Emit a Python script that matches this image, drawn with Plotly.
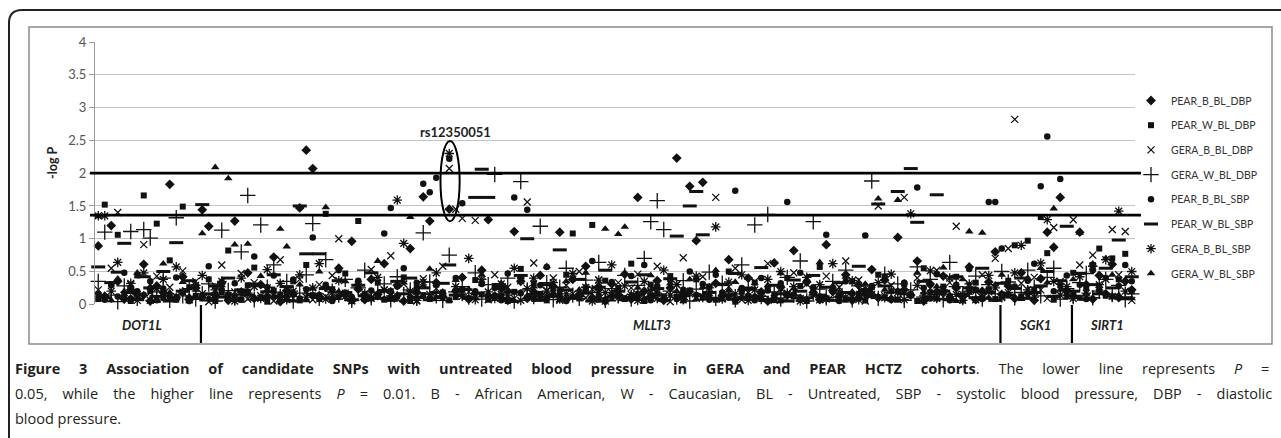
import plotly.graph_objects as go

# ---------------- data (-log P per SNP, SNPs in genomic order) ----------------
n_snps = 160
snp_index = list(range(n_snps))

PEAR_B_BL_DBP = [
    .89, .12, 1.20, .35, .08, .22, .15, .61, .05, .28, .18, 1.83, .10, .42, .07, .25, 1.44, 1.19, .14, .33,
    .06, 1.27, .19, .48, .09, .30, .12, .72, .04, .21, .16, 1.47, 2.35, 2.07, .11, .26, .08, .55, .14, .96,
    .23, .07, .38, .15, .62, .10, .29, .05, .85, .18, 1.64, 1.27, .33, .12, 1.45, .20, .41, .08, .17, .52,
    1.29, .13, .24, .06, 1.11, .35, .09, .19, .44, .11, .27, 1.10, .07, .38, .15, .58, .10, .23, .05, .31,
    .14, .46, .08, 1.63, .20, .12, .36, .06, .25, 2.23, .17, 1.80, .97, 1.86, .09, .32, .13, .68, .07, .22,
    .40, .11, .19, .05, .63, .26, .14, .82, .09, .34, .18, .07, .91, .21, .12, .45, .06, .29, .16, .53,
    .10, .37, .08, 1.02, .22, .14, .66, .05, .31, .19, .43, .09, .25, .12, .57, .07, .20, .34, .80, .15,
    .28, .09, .48, .17, .06, .39, 1.10, .87, 1.63, .21, .12, 1.10, .30, .08, .44, .16, .61, .10, .35, .22]

PEAR_W_BL_DBP = [
    .08, 1.52, .31, 1.06, .15, .05, .44, 1.66, .20, 1.23, .11, .67, .07, 1.49, .26, .13, .09, .38, .05, .18,
    .82, .12, .07, .29, .56, .10, .04, .21, .15, .09, .35, .06, .60, .14, .08, 1.38, .23, .11, .47, .05,
    1.27, .16, .09, .33, .07, .20, .12, .41, .05, .25, .14, .08, .30, .18, .06, .11, .22, .09, .37, .15,
    .07, .28, .12, .05, .19, .54, .10, .32, .16, .06, .24, .13, .45, 1.08, .09, .20, 1.21, .07, .36, .14,
    .25, .08, .62, .11, .05, .30, .17, .09, .43, .12, .06, .21, .38, .10, .27, .07, .15, .50, .04, .19,
    .11, .33, .08, .22, .14, .06, .40, .12, .28, .05, .18, .57, .09, .24, .13, .07, .35, .16, .06, .26,
    .45, .10, .20, .07, .31, .14, .05, .55, .18, .09, .27, .12, .42, .06, .19, .33, .10, .23, .08, .15,
    .36, .90, .12, .97, .21, 1.33, .78, .07, .29, .16, .48, .10, .25, .60, .85, .13, .70, .38, .77, .20]

GERA_B_BL_DBP = [
    .22, .10, .55, 1.40, .14, .30, .06, .91, .18, .43, .09, .26, .12, .51, .07, .35, .16, .04, .28, .60,
    .11, .19, .47, .08, .33, .13, .25, .05, .68, .15, .09, .38, .20, .07, .30, .12, .44, 1.00, .17, .06,
    .27, .10, .53, .14, .22, .74, .08, .31, .16, .05, .39, .12, .24, .58, 2.07, 1.45, 1.31, .19, 1.28, .34,
    .07, .45, .15, .26, .09, .36, 1.56, .63, .12, .21, .40, .06, .29, .16, .50, .10, .23, .37, .05, .18,
    .33, .11, .25, .46, .08, .19, .58, .13, .04, .30, .71, .16, .09, .42, .22, 1.63, .10, .27, .55, .07,
    .18, .35, .12, .62, .06, .24, .15, .48, .09, .31, .20, .07, .43, .14, .26, .66, .11, .37, .05, .21,
    1.50, .13, .29, .08, 1.63, .17, .40, .06, .24, .52, .11, .33, 1.19, .15, .28, .07, .45, .19, .70, .12,
    .85, 2.82, .32, .14, .41, .22, .09, 1.17, .35, .18, 1.29, .60, .11, .75, .27, .38, 1.14, .45, 1.11, .06]

GERA_W_BL_DBP = [
    .35, 1.10, .14, .04, .28, 1.11, .09, 1.14, 1.01, .19, .40, .06, 1.32, .13, .24, .08, .16, .31, .05, 1.13,
    .21, .11, .80, 1.66, .07, 1.21, .26, .60, .12, .35, .05, .17, .45, 1.23, .09, .68, .20, .14, .38, .06,
    .25, .52, .10, .18, .31, .07, .42, .15, .22, .09, 1.09, .34, .13, .06, .75, .19, .27, .11, .48, .08,
    .30, 1.98, .16, .40, .05, 1.87, .22, .12, 1.19, .33, .07, .26, .55, .14, .09, .37, .18, .64, .06, .24,
    .13, .44, .08, .29, .70, 1.26, 1.58, 1.14, .20, .11, .36, .05, .23, .15, .49, .09, .32, .17, .07, .60,
    .26, 1.21, .12, 1.37, .19, .08, .41, .14, .66, .05, 1.26, .23, .10, .35, .17, .52, .07, .28, .13, 1.88,
    .09, .46, .18, .31, .06, .22, .57, .11, .38, .15, .07, .64, .27, .12, .20, .43, .08, .30, .16, .50,
    .34, .10, .18, .52, .26, .13, .41, .55, .08, .24, .12, .33, .47, .10, .20, .38, .15, .29, .07, .16]

PEAR_B_BL_SBP = [
    .16, .07, .29, .12, .48, .09, .20, .14, .35, .06, .24, .11, .41, .18, .05, .27, .13, .58, .08, .22,
    .15, .32, .07, .19, .73, .10, .26, .44, .06, .17, .38, .09, .23, 1.02, .14, .30, .05, .52, .18, .11,
    .36, .08, .21, .13, 1.08, 1.47, .27, .55, .10, .33, 1.84, 1.71, 1.93, .15, 2.22, .40, 1.54, .09, .20, .31,
    .12, .25, .06, .47, 1.63, .17, 1.44, .08, .29, .57, .14, .21, .05, .39, .11, .26, .66, .13, .07, .34,
    .19, .09, .43, .16, .60, .06, .28, .12, .37, .08, .22, .50, .14, .31, .07, .45, .18, .10, 1.73, .25,
    .13, .06, .40, .21, .09, .32, 1.56, .15, .48, .07, .26, .12, 1.06, .19, .05, .35, .16, .09, 1.05, .28,
    .11, .42, .07, .20, .33, .14, 1.78, .25, .09, .46, .18, .06, .30, .12, .54, .22, .08, 1.56, 1.56, .85,
    .15, .27, .10, .36, .62, 1.80, 2.56, .20, 1.91, .44, .16, .30, .08, .52, .21, .40, .12, .28, .60, .35]

PEAR_W_BL_SBP = [
    .57, .10, .33, .49, .93, .18, .07, .42, .25, .12, .50, .05, .94, .20, .36, .09, 1.52, .16, .28, .11,
    .40, .06, .22, .14, .31, .08, .19, .45, .12, .27, .05, 1.50, .77, .15, .77, .24, .10, .36, .18, .07,
    .29, .13, .48, .09, .21, .06, .35, .16, .40, .11, .25, .07, .18, .32, .60, .14, .23, .09, 1.63, 2.06,
    1.63, .12, .27, .08, .19, .44, 1.00, .15, .06, .30, .13, .83, .22, .09, .38, .17, .05, .26, .52, .11,
    .20, .07, .34, .15, .45, .10, .24, .06, .39, 1.04, .13, 1.50, 1.72, 1.06, .18, .08, .30, .14, .47, .09,
    .23, .12, .56, .07, .29, .16, .05, .37, .20, .10, .44, .14, .26, .06, .33, .18, .09, .58, .21, .12,
    1.53, .28, .08, 1.72, .16, 2.07, 1.25, .35, .11, 1.67, .20, .07, .42, .15, .25, .10, .55, .18, .06, .32,
    .14, .24, .40, .09, .18, .28, .50, .12, .36, 1.19, .20, .47, .08, .30, .16, .55, .25, .98, .10, .42]

GERA_B_BL_SBP = [
    1.35, 1.35, .20, .64, .09, .32, .15, .48, .06, .24, .38, .12, .57, .19, .08, .29, .44, .10, .22, .35,
    .13, .05, .40, .17, .27, .09, .53, .14, .32, .07, .20, .45, .11, .25, .62, .08, .18, .36, .12, .05,
    .30, .16, .09, .41, .22, .13, 1.59, .93, .20, .06, .34, .15, .48, .10, 2.30, .27, .12, .70, .07, .38,
    .19, .09, .31, .14, .55, .06, .24, .40, .11, .20, .33, .08, .16, .47, .12, .26, .05, .37, .18, .60,
    .10, .28, .15, .06, .35, .21, .09, .52, .14, .30, .07, .19, .43, .12, .25, 1.18, .08, .34, .16, .45,
    .06, .22, .13, .38, .09, .50, .17, .27, .05, .41, .14, .30, .08, .62, .19, .11, .36, .07, .24, .15,
    .33, .10, .46, .18, .07, 1.38, .29, .13, .51, .09, .22, .40, .15, .06, .31, .20, .11, .44, .25, .10,
    .18, .48, .90, .22, .11, .63, 1.29, .35, .14, .27, .09, .42, .17, .58, .30, .68, .12, 1.42, .20, .50]

GERA_W_BL_SBP = [
    1.34, .14, .06, .39, .20, .10, .48, .15, .27, .05, .62, .18, .09, .34, .12, .22, 1.08, .07, 2.09, .29,
    1.92, .91, .16, .92, .08, .43, .20, .11, 1.15, .88, .14, .30, .06, .24, .50, 1.48, .10, .19, .35, .07,
    .26, .12, .40, .66, .09, .21, .15, .33, 1.33, .08, .28, .54, .11, .19, .06, .37, .14, .23, .10, .45,
    .16, .08, .32, .20, .05, .41, .13, .27, .09, .58, .18, .06, .35, .12, .22, .48, .10, .30, 1.15, .07,
    1.07, 1.18, .14, .25, .09, .44, .17, .06, .32, .20, .11, .38, .08, .26, .15, .52, .07, .21, .34, .12,
    .40, .09, .18, .29, .05, .47, .13, .24, .08, .36, .17, .64, .11, .28, .06, .42, .19, .10, .31, .15,
    1.61, .22, .07, 1.59, .33, .12, .48, .18, .09, .27, .56, .14, .05, .38, 1.11, .20, 1.09, .10, .30, .45,
    .12, .26, .08, .40, .18, .55, .33, 1.46, .22, .10, .38, 1.09, .16, .62, .28, .70, .45, .14, .36, .09]

series_names = ["PEAR_B_BL_DBP", "PEAR_W_BL_DBP", "GERA_B_BL_DBP", "GERA_W_BL_DBP",
                "PEAR_B_BL_SBP", "PEAR_W_BL_SBP", "GERA_B_BL_SBP", "GERA_W_BL_SBP"]
series_values = [PEAR_B_BL_DBP, PEAR_W_BL_DBP, GERA_B_BL_DBP, GERA_W_BL_DBP,
                 PEAR_B_BL_SBP, PEAR_W_BL_SBP, GERA_B_BL_SBP, GERA_W_BL_SBP]

y_ticks = [0, 0.5, 1, 1.5, 2, 2.5, 3, 3.5, 4]
y_tick_text = ["0", "0.5", "1", "1.5", "2", "2.5", "3", "3.5", "4"]

threshold_p05 = 1.36   # drawn line for P = 0.05
threshold_p01 = 2.0    # drawn line for P = 0.01

genes = ["DOT1L", "MLLT3", "SGK1", "SIRT1"]
gene_boundaries = [16, 139, 150]   # SNP index where a new gene starts

highlight_snp = "rs12350051"
highlight_index = 54

caption_line1 = ("Figure 3 Association of candidate SNPs with untreated blood pressure in GERA and PEAR HCTZ "
                 "cohorts. The lower line represents P =")
caption_line2 = ("0.05, while the higher line represents P = 0.01. B - African American, W - Caucasian, "
                 "BL - Untreated, SBP - systolic blood pressure, DBP - diastolic")
caption_line3 = "blood pressure."

# ---------------- geometry (paper == whole figure) ----------------
W, H = 1281, 438
PL, PR, PT, PB = 95, 1135, 42, 304.3


def fx(x):
    return x / W


def fy(y):
    return 1 - y / H


styles = [
    dict(symbol="diamond", size=7.5, color="#111"),
    dict(symbol="square", size=6, color="#111"),
    dict(symbol="x-thin-open", size=7, color="#111", line=dict(width=1.3, color="#111")),
    dict(symbol="cross-thin-open", size=11, color="#111", line=dict(width=1.3, color="#111")),
    dict(symbol="circle", size=6.5, color="#111"),
    dict(symbol="line-ew-open", size=10, color="#111", line=dict(width=3, color="#111")),
    dict(symbol="asterisk-open", size=8, color="#111", line=dict(width=1.3, color="#111")),
    dict(symbol="triangle-up", size=7.5, color="#111"),
]

fig = go.Figure()
for name, vals, st in zip(series_names, series_values, styles):
    fig.add_trace(go.Scatter(
        x=snp_index, y=vals, mode="markers", name=name, legendgroup=name,
        marker=st, cliponaxis=False, hoverinfo="x+y+name"))

shapes = []
for t in (threshold_p05, threshold_p01):
    shapes.append(dict(type="line", xref="paper", yref="y", x0=fx(90), x1=fx(1141), y0=t, y1=t,
                       line=dict(color="black", width=2.6), layer="above"))
for b in gene_boundaries:
    shapes.append(dict(type="line", xref="x", yref="paper", x0=b - 0.2, x1=b - 0.2,
                       y0=fy(305), y1=fy(343), line=dict(color="black", width=2.2)))
shapes.append(dict(type="circle", xref="x", yref="y", x0=highlight_index - 1.35, x1=highlight_index + 1.6,
                   y0=1.265, y1=2.49, line=dict(color="black", width=2)))
shapes.append(dict(type="rect", xref="paper", yref="paper", x0=fx(29), x1=fx(1272), y0=fy(344), y1=fy(27),
                   line=dict(color="#8a8a8a", width=1.5), layer="below"))
path = "M {a},{b} L {c},{b} Q {d},{b} {d},{e} L {d},{f}".format(
    a=fx(1290), b=fy(10), c=fx(22), d=fx(9), e=fy(23), f=fy(445))
shapes.append(dict(type="path", xref="paper", yref="paper", path=path,
                   line=dict(color="#222", width=2)))

annotations = []
annotations.append(dict(xref="paper", yref="paper", x=fx(52), y=fy(163), xanchor="center", yanchor="middle",
                        text="<b>-log P</b>", textangle=-90, showarrow=False,
                        font=dict(family="Lato", size=12.5, color="#222")))
annotations.append(dict(xref="x", yref="y", x=highlight_index + 0.9, y=2.63, xanchor="center",
                        text="<b>" + highlight_snp + "</b>", showarrow=False,
                        font=dict(family="Lato", size=13, color="#222")))
gene_centers = [142, 652, 1035, 1107]
for g, cx in zip(genes, gene_centers):
    annotations.append(dict(xref="paper", yref="paper", x=fx(cx), y=fy(325), xanchor="center",
                            yanchor="middle", text="<b><i>" + g + "</i></b>", showarrow=False,
                            font=dict(family="Lato", size=13, color="#222")))


def justify(text, gap, bold_until=None):
    words = text.split(" ")
    out = []
    for w in words:
        out.append("<i>P</i>" if w == "P" else w)
    if bold_until is not None:
        k = [i for i, w in enumerate(words) if w.startswith(bold_until)][0]
        word = out[k]
        out[0] = "<b>" + out[0]
        out[k] = word[:len(bold_until)] + "</b>" + word[len(bold_until):]
    return ("\u00a0" * gap).join(out)


l1 = justify(caption_line1, 5, bold_until="cohorts")
l2 = justify(caption_line2, 4)
l3 = caption_line3
for k, line in enumerate([l1, l2, l3]):
    annotations.append(dict(xref="paper", yref="paper", x=fx(13), y=fy(368 + 25 * k), xanchor="left",
                            yanchor="middle", text=line, showarrow=False, align="left",
                            font=dict(family="Open Sans", size=14.5, color="#231f20")))

fig.update_layout(
    width=W, height=H,
    margin=dict(l=0, r=0, t=0, b=0, pad=0, autoexpand=False),
    paper_bgcolor="white", plot_bgcolor="white",
    showlegend=True,
    legend=dict(xref="container", yref="container", x=fx(1131), y=fy(86), xanchor="left", yanchor="top",
                font=dict(family="Lato", size=10.5, color="#333"),
                traceorder="grouped", tracegroupgap=5.7, itemwidth=30,
                bgcolor="rgba(0,0,0,0)"),
    xaxis=dict(domain=[fx(PL), fx(PR)], range=[-0.5, n_snps - 0.5], showgrid=False, zeroline=False,
               showticklabels=False, ticks="", showline=False, fixedrange=True),
    yaxis=dict(domain=[fy(PB), fy(PT)], range=[0, 4], tickvals=y_ticks, ticktext=y_tick_text,
               showgrid=True, gridcolor="#c4c4c4", gridwidth=1, zeroline=False, showline=True,
               linecolor="#999", linewidth=1.2, ticks="outside", ticklen=5, tickcolor="#999",
               tickfont=dict(family="Lato", size=13, color="#555")),
    shapes=shapes, annotations=annotations,
)

fig.write_html("out.html", config={"displayModeBar": False},
               post_script="document.body.style.margin='0px';")
